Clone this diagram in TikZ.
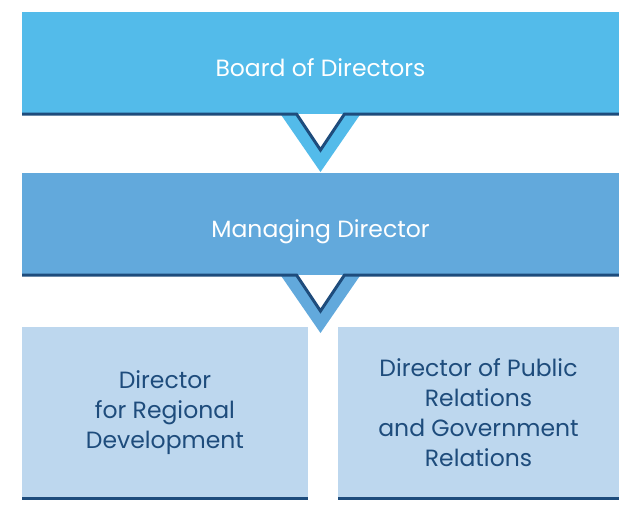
\documentclass[tikz,border=0pt]{standalone}
\usepackage{fontspec}
\setmainfont{Poppins}
\usetikzlibrary{positioning,calc}
\definecolor{boardblue}{HTML}{53BBEA}
\definecolor{mgrblue}{HTML}{62A9DC}
\definecolor{paleblue}{HTML}{BDD7EE}
\definecolor{inkblue}{HTML}{1E4C7C}

\begin{document}
\begin{tikzpicture}[x=1pt,y=1pt,node distance=59pt and 30pt,
box/.style={inner sep=0pt,outer sep=0pt,align=center,font=\fontsize{23.5}{30}\selectfont},
wide/.style={box,text=white,minimum width=597pt,minimum height=102pt,text height=26pt,text depth=0pt},
low/.style={box,fill=paleblue,text=inkblue,minimum height=171pt},
rule/.style={draw=inkblue,line width=3pt}]
\useasboundingbox[fill=white] (0,0) rectangle (619,-506);
\node[wide,fill=boardblue] (board) at (320.5,-63) {Board of Directors};
\node[wide,fill=mgrblue,below=of board] (mgr) {Managing Director};
\node[low,minimum width=286pt,below right=52pt and 0pt of mgr.south west] (regional) {Director\\for Regional\\Development};
\node[low,minimum width=281pt,right=of regional] (public) {Director of Public\\Relations\\and Government\\Relations};
% chevrons between the levels
\fill[boardblue] ($(board.south)+(-40,0)$) -- ++(40,-58) -- ++(40,58) -- cycle;
\fill[white] ($(board.south)+(-24,0)$) -- ++(24,-36) -- ++(24,36) -- cycle;
\draw[rule] (board.south west) -- ($(board.south)+(-24,0)$) -- ++(24,-36) -- ++(24,36) -- (board.south east);
\fill[mgrblue] ($(mgr.south)+(-40,0)$) -- ++(40,-58) -- ++(40,58) -- cycle;
\fill[white] ($(mgr.south)+(-24,0)$) -- ++(24,-36) -- ++(24,36) -- cycle;
\draw[rule] (mgr.south west) -- ($(mgr.south)+(-24,0)$) -- ++(24,-36) -- ++(24,36) -- (mgr.south east);
\draw[rule] (regional.south west) -- (regional.south east);
\draw[rule] (public.south west) -- (public.south east);
\end{tikzpicture}
\end{document}
